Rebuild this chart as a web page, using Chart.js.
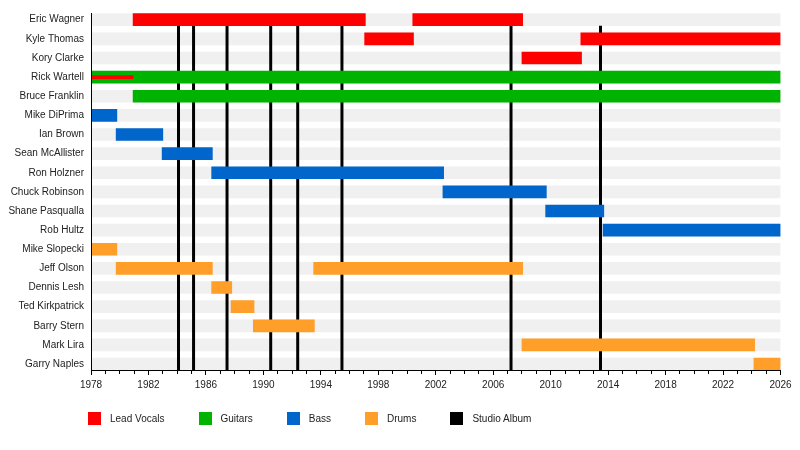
<!DOCTYPE html>
<html>
<head>
<meta charset="utf-8">
<script src="https://cdn.jsdelivr.net/npm/chart.js"></script>
<style>
  body { margin: 0; background: #fff; }
  #wrap { width: 800px; height: 450px; position: relative; }
  #legend { position: absolute; left: 88px; top: 412px; display: flex; align-items: center;
    font: 10px 'Liberation Sans', Arial, sans-serif; color: #222; }
  #legend .item { display: flex; align-items: center; margin-right: 34px; }
  #legend .box { width: 13px; height: 13px; margin-right: 9px; }
</style>
</head>
<body>
<div id="wrap"><canvas id="membersChart"></canvas><div id="legend"></div></div>
<script>
// band members, top to bottom
const members = ['Eric Wagner', 'Kyle Thomas', 'Kory Clarke', 'Rick Wartell', 'Bruce Franklin',
  'Mike DiPrima', 'Ian Brown', 'Sean McAllister', 'Ron Holzner', 'Chuck Robinson',
  'Shane Pasqualla', 'Rob Hultz', 'Mike Slopecki', 'Jeff Olson', 'Dennis Lesh',
  'Ted Kirkpatrick', 'Barry Stern', 'Mark Lira', 'Garry Naples'];

// [member, from, to]
const leadVocals = [
  ['Eric Wagner', 1980.93, 1997.1], ['Eric Wagner', 2000.4, 2008.05],
  ['Kyle Thomas', 1997.05, 2000.45], ['Kyle Thomas', 2012.1, 2026],
  ['Kory Clarke', 2008, 2012.15]
];
const sideVocals = [['Rick Wartell', 1978, 1980.93]];
const guitars = [['Rick Wartell', 1978, 2026], ['Bruce Franklin', 1980.93, 2026]];
const bass = [
  ['Mike DiPrima', 1978, 1979.8], ['Ian Brown', 1979.75, 1983.0], ['Sean McAllister', 1982.95, 1986.45],
  ['Ron Holzner', 1986.4, 2002.55], ['Chuck Robinson', 2002.5, 2009.7],
  ['Shane Pasqualla', 2009.65, 2013.7], ['Rob Hultz', 2013.65, 2026]
];
const drums = [
  ['Mike Slopecki', 1978, 1979.8], ['Jeff Olson', 1979.75, 1986.45], ['Dennis Lesh', 1986.4, 1987.8],
  ['Ted Kirkpatrick', 1987.75, 1989.35], ['Barry Stern', 1989.3, 1993.55], ['Jeff Olson', 1993.5, 2008.05],
  ['Mark Lira', 2008, 2024.2], ['Garry Naples', 2024.15, 2026]
];
const studioAlbums = [1984.09, 1985.14, 1987.47, 1990.51, 1992.39, 1995.47, 2007.24, 2013.47];

const yearMin = 1978, yearMax = 2026;
const legendNames = ['Lead Vocals', 'Guitars', 'Bass', 'Drums', 'Studio Album'];
const legendColors = ['#ff0000', '#00b300', '#0066cc', '#ff9f29', '#000000'];

function toBars(list) {
  return list.map(r => ({ x: [r[1], r[2]], y: members.indexOf(r[0]) }));
}

const font = { family: "'Liberation Sans', Arial, sans-serif", size: 10 };

const ctx = document.getElementById('membersChart').getContext('2d');
const chart = new Chart(ctx, {
  type: 'bar',
  data: {
    datasets: [
      { label: 'Lead Vocals (side)', data: toBars(sideVocals), backgroundColor: legendColors[0], barThickness: 3, order: -1 },
      { label: 'Lead Vocals', data: toBars(leadVocals), backgroundColor: legendColors[0], barThickness: 12, order: 0 },
      { label: 'Guitars', data: toBars(guitars), backgroundColor: legendColors[1], barThickness: 12, order: 0 },
      { label: 'Bass', data: toBars(bass), backgroundColor: legendColors[2], barThickness: 12, order: 0 },
      { label: 'Drums', data: toBars(drums), backgroundColor: legendColors[3], barThickness: 12, order: 0 },
      {
        type: 'line', label: 'Studio Album', indexAxis: 'x',
        data: studioAlbums.flatMap(a => [{ x: a, y: 0.32 }, { x: a, y: 18.31 }, { x: a, y: null }]),
        borderColor: '#000', backgroundColor: '#000', borderWidth: 3,
        pointRadius: 0, pointHoverRadius: 0, spanGaps: false, order: 1
      },
      {
        label: 'rows', data: members.map((m, i) => ({ x: [yearMin, yearMax], y: i })),
        backgroundColor: '#f0f0f0', barThickness: 12, order: 2
      }
    ]
  },
  options: {
    indexAxis: 'y',
    responsive: true,
    maintainAspectRatio: false,
    animation: false,
    layout: { padding: { left: 0, right: 19.5, top: 7, bottom: 50 } },
    datasets: { bar: { grouped: false } },
    scales: {
      x: {
        type: 'linear', position: 'bottom', min: yearMin, max: yearMax, offset: false,
        afterFit: s => { s.height = 30; },
        ticks: {
          stepSize: 1, autoSkip: false, maxRotation: 0, padding: 4, color: '#222', font: font,
          callback: v => ((Math.round(v) - yearMin) % 4 === 0 ? String(Math.round(v)) : '')
        },
        grid: {
          drawOnChartArea: false, offset: false, tickLength: 5, tickColor: '#000',
          tickBorderDash: c => (c.tick && (Math.round(c.tick.value) - yearMin) % 4 === 0 ? [] : [3, 20])
        },
        border: { display: true, color: '#000', width: 1, z: 1 }
      },
      y: {
        type: 'linear', position: 'left', reverse: true, min: -0.35, max: 18.31, offset: false,
        afterFit: s => { s.width = 91; },
        afterBuildTicks: s => { s.ticks = members.map((m, i) => ({ value: i })); },
        ticks: { autoSkip: false, padding: 7, color: '#222', font: font, callback: v => members[v] },
        grid: { display: false, drawTicks: false, offset: false },
        border: { display: true, color: '#000', width: 1, z: 1 }
      }
    },
    plugins: {
      tooltip: { enabled: false },
      legend: { display: false }
    }
  }
});

// legend as html, from the same names and colours
const legendEl = document.getElementById('legend');
legendNames.forEach((name, i) => {
  const item = document.createElement('div');
  item.className = 'item';
  const box = document.createElement('span');
  box.className = 'box';
  box.style.background = legendColors[i];
  const label = document.createElement('span');
  label.textContent = name;
  item.appendChild(box);
  item.appendChild(label);
  legendEl.appendChild(item);
});
</script>
</body>
</html>
